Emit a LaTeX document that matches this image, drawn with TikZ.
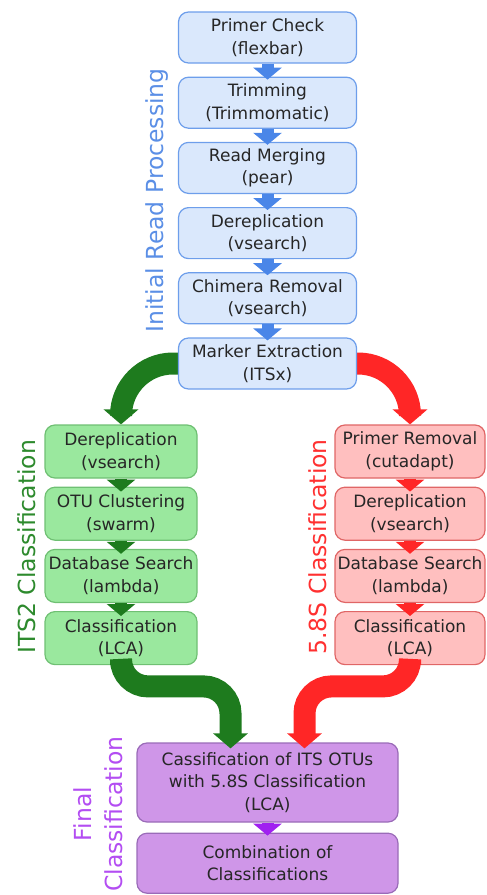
\documentclass[tikz,border=0pt]{standalone}
\usepackage{fontspec}
\setmainfont{DejaVu Sans}
\usetikzlibrary{arrows.meta,positioning,calc,backgrounds}
\definecolor{bluefill}{HTML}{DAE8FC}
\definecolor{blueline}{HTML}{6D9EEB}
\definecolor{bluearr}{HTML}{4A86E8}
\definecolor{bluetext}{HTML}{5B8FE6}
\definecolor{greenfill}{HTML}{9AE89E}
\definecolor{greenline}{HTML}{6FC073}
\definecolor{greenarr}{HTML}{1E7B1E}
\definecolor{greentext}{HTML}{2D8A2D}
\definecolor{redfill}{HTML}{FFBFBF}
\definecolor{redline}{HTML}{E06666}
\definecolor{redarr}{HTML}{FF2626}
\definecolor{redtext}{HTML}{FF3030}
\definecolor{purplefill}{HTML}{CF96E8}
\definecolor{purpleline}{HTML}{9A6BB8}
\definecolor{purplearr}{HTML}{A020F0}
\definecolor{purpletext}{HTML}{B34DF2}

\begin{document}
\begin{tikzpicture}[x=1pt, y=1pt,
  box/.style={draw, rectangle, rounded corners=10pt, line width=1.2pt, minimum height=51pt,
    align=center, inner sep=0pt, text=black!85, font=\fontsize{17}{22.5}\selectfont},
  bluebox/.style={box, fill=bluefill, draw=blueline, minimum width=178pt},
  greenbox/.style={box, fill=greenfill, draw=greenline, minimum width=152pt, minimum height=53pt},
  redbox/.style={box, fill=redfill, draw=redline, minimum width=150pt, minimum height=53pt},
  purplebox/.style={box, fill=purplefill, draw=purpleline, minimum width=261pt},
  arr/.style={-{Triangle[width=28pt,length=12pt]}, line width=12pt},
  bigarr/.style={-{Triangle[width=34pt,length=15pt]}, line width=22pt},
  side/.style={rotate=90, align=center, font=\fontsize{23.5}{31}\selectfont},
  node distance=13pt]
\useasboundingbox (0,0) rectangle (487,-895);
% Initial read processing
\node[bluebox] (b1) at (267.5,-37.5) {Primer Check\\(flexbar)};
\node[bluebox, below=of b1] (b2) {Trimming\\(Trimmomatic)};
\node[bluebox, below=of b2] (b3) {Read Merging\\(pear)};
\node[bluebox, below=of b3] (b4) {Dereplication\\(vsearch)};
\node[bluebox, below=of b4] (b5) {Chimera Removal\\(vsearch)};
\node[bluebox, below=of b5] (b6) {Marker Extraction\\(ITSx)};
\foreach \a/\b in {b1/b2,b2/b3,b3/b4,b4/b5,b5/b6}
  \draw[arr, bluearr] (\a.south) -- ([yshift=-3pt]\b.north);
\node[side, bluetext] (labIRP) at ($(b1.north west)!0.5!(b6.south west)+(-21,0)$) {Initial Read Processing};
% ITS2 classification
\node[greenbox] (g1) at (121,-451.5) {Dereplication\\(vsearch)};
\node[greenbox, below=8pt of g1] (g2) {OTU Clustering\\(swarm)};
\node[greenbox, below=8pt of g2] (g3) {Database Search\\(lambda)};
\node[greenbox, below=8pt of g3] (g4) {Classification\\(LCA)};
\foreach \a/\b in {g1/g2,g2/g3,g3/g4}
  \draw[arr, greenarr] (\a.south) -- ([yshift=-5pt]\b.north);
\node[side, greentext] (labITS) at ($(g1.north west)!0.5!(g4.south west)+(-18,-2)$) {ITS2 Classification};
% 5.8S classification
\node[redbox] (r1) at (410,-451.5) {Primer Removal\\(cutadapt)};
\node[redbox, below=8pt of r1] (r2) {Dereplication\\(vsearch)};
\node[redbox, below=8pt of r2] (r3) {Database Search\\(lambda)};
\node[redbox, below=8pt of r3] (r4) {Classification\\(LCA)};
\foreach \a/\b in {r1/r2,r2/r3,r3/r4}
  \draw[arr, redarr] (\a.south) -- ([yshift=-5pt]\b.north);
\node[side, redtext] (labS) at ($(r1.north west)!0.5!(r4.south west)+(-17,-2)$) {5.8S Classification};
% split after marker extraction
\begin{scope}[on background layer]
\draw[bigarr, greenarr, rounded corners=52pt] (b6.west) -| (g1.north);
\draw[bigarr, redarr, rounded corners=52pt] (b6.east) -| (r1.north);
\end{scope}
% final classification
\node[purplebox, minimum height=79pt] (p1) at (267.5,-782.5) {Cassification of ITS OTUs\\with 5.8S Classification\\(LCA)};
\node[purplebox, minimum height=60pt, below=10pt of p1] (p2) {Combination of\\Classifications};
\draw[arr, purplearr] (p1.south) -- ([yshift=-3pt]p2.north);
\node[side, purpletext] (labFin) at ($(p1.north west)!0.5!(p2.south west)+(-38,4)$) {Final\\Classification};
\draw[bigarr, greenarr, rounded corners=27pt] (g4.south) |- ([xshift=-37pt,yshift=56pt]p1.north)
  -- ([xshift=-37pt,yshift=-6pt]p1.north);
\draw[bigarr, redarr, rounded corners=27pt] (r4.south) |- ([xshift=37pt,yshift=56pt]p1.north)
  -- ([xshift=37pt,yshift=-6pt]p1.north);
\end{tikzpicture}
\end{document}
